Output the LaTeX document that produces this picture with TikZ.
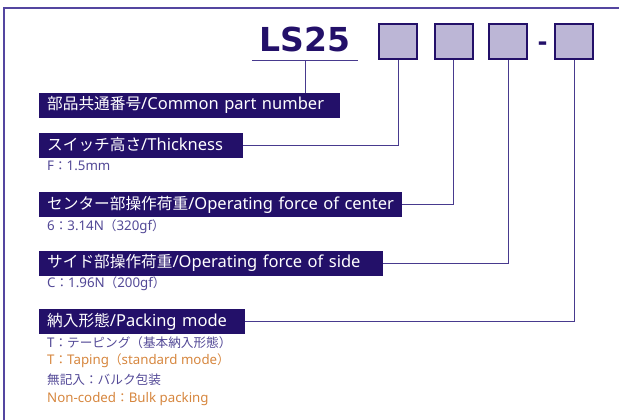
\documentclass[tikz,border=0pt]{standalone}
\usepackage{fontspec}
\setmainfont{Noto Sans}
\newfontfamily\jp[Scale=0.95]{Noto Sans CJK JP}
\newfontfamily\heavy{DejaVu Sans}
\definecolor{navy}{RGB}{35,16,105}
\definecolor{boxfill}{RGB}{188,182,214}
\definecolor{linec}{RGB}{72,58,142}
\definecolor{framec}{RGB}{84,70,160}
\definecolor{subp}{RGB}{82,72,150}
\definecolor{subo}{RGB}{214,134,62}
\tikzset{
  lbl/.style={fill=navy, text=white, anchor=west, inner xsep=8pt, inner ysep=0pt,
    minimum height=25pt, text height=12.5pt, text depth=3.5pt, align=left,
    font=\fontsize{16.5}{18}\selectfont},
  selbox/.style={draw=navy, line width=2pt, fill=boxfill, minimum width=38pt,
    minimum height=35pt, inner sep=0pt},
  conn/.style={draw=linec, line width=1pt},
  subtxt/.style={anchor=west, inner sep=0pt, font=\fontsize{13.3}{15}\selectfont},
  framel/.style={draw=framec, line width=1.5pt}
}
\begin{document}
\begin{tikzpicture}[x=1pt,y=-1pt]
\useasboundingbox (0,0) rectangle (619,420);
\draw[framel] (4,420) -- (4,8) -- (619,8);

% part number
\node[anchor=base, inner sep=0pt, minimum width=106pt, text depth=8pt, text=navy,
  font=\heavy\bfseries\fontsize{33}{36}\selectfont] (ls) at (305,52) {LS25};
\draw[conn] (ls.south west) -- (ls.south east);

\node[selbox] (b1) at (398,41.5) {};
\node[selbox] (b2) at (453.5,41.5) {};
\node[selbox] (b3) at (508,41.5) {};
\node[anchor=base, inner sep=0pt, text=navy, font=\heavy\bfseries\fontsize{24}{26}\selectfont] (dash) at (542.5,51) {-};
\node[selbox] (b4) at (574,41.5) {};

% labels
\node[lbl, text width=285pt] (lab1) at (39,105.5) {{\jp 部品共通番号}/Common part number};
\node[lbl, text width=188pt] (lab2) at (39,145.5) {{\jp スイッチ高さ}/Thickness};
\node[lbl, text width=347pt] (lab3) at (39,204.5) {\mbox{{\jp センター部操作荷重}/Operating force of center}};
\node[lbl, text width=328pt] (lab4) at (39,263) {{\jp サイド部操作荷重}/Operating force of side};
\node[lbl, text width=190pt] (lab5) at (39,321.5) {{\jp 納入形態}/Packing mode};

% sub texts
\node[subtxt, text=subp] (s2) at (47,166) {F{\jp ：}1.5mm};
\node[subtxt, text=subp] (s3) at (47,227) {6{\jp ：}3.14N{\jp （}320gf{\jp ）}};
\node[subtxt, text=subp] (s4) at (47,284) {C{\jp ：}1.96N{\jp （}200gf{\jp ）}};
\node[subtxt, text=subp] (s5a) at (47,343) {T{\jp ：テーピング（基本納入形態）}};
\node[subtxt, text=subo] (s5b) at (47,361) {T{\jp ：}Taping{\jp （}standard mode{\jp ）}};
\node[subtxt, text=subp] (s5c) at (47,380) {{\jp 無記入：バルク包装}};
\node[subtxt, text=subo] (s5d) at (47,399) {Non-coded{\jp ：}Bulk packing};

% connectors
\draw[conn] (ls.south) -- (ls.south |- lab1.north);
\draw[conn] (b1.south) |- (lab2.east);
\draw[conn] (b2.south) |- (lab3.east);
\draw[conn] (b3.south) |- (lab4.east);
\draw[conn] (b4.south) |- (lab5.east);
\end{tikzpicture}
\end{document}
